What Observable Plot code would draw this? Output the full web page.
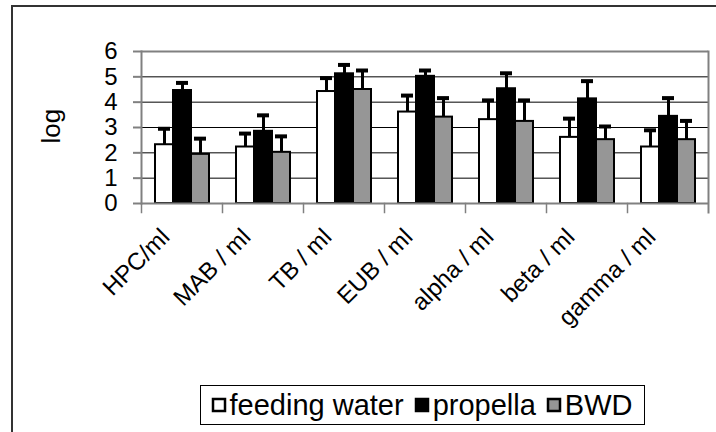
<!DOCTYPE html>
<html><head><meta charset="utf-8">
<script src="https://cdn.jsdelivr.net/npm/d3@7"></script>
<script src="https://cdn.jsdelivr.net/npm/@observablehq/plot@0.6"></script>
<style>
html,body{margin:0;padding:0;background:#fff;width:716px;height:432px;overflow:hidden;font-family:"Liberation Sans",Arial,sans-serif;}
#outer{position:absolute;left:11px;top:5px;width:760px;height:480px;border:2px solid #333;box-sizing:border-box;}
#chart{position:absolute;left:0;top:0;}
#legend{position:absolute;left:200px;top:385px;width:445px;height:40px;border:1px solid #000;box-sizing:border-box;display:flex;align-items:center;justify-content:center;background:#fff;}
#legend .lg-swatches{margin:0 !important;font-family:"Liberation Sans",Arial,sans-serif !important;font-size:29px !important;color:#000;min-height:0 !important;}
#legend .lg-swatch{margin-right:12px !important;}
#legend .lg-swatch:last-child{margin-right:0 !important;}
#legend .lg-swatch svg{margin-right:5px !important;}
#legend .lg-swatch svg rect{stroke:#000;stroke-width:2.5px;}
</style>
</head><body>
<div id="outer"></div>
<div id="chart"></div>
<div id="legend"></div>
<script>
const categories = ["HPC/ml", "MAB / ml", "TB / ml", "EUB / ml", "alpha / ml", "beta / ml", "gamma / ml"];
const series = ["feeding water", "propella", "BWD"];
const seriesColors = ["#ffffff", "#000000", "#969696"];
const feedingWater = [2.32, 2.23, 4.42, 3.61, 3.31, 2.61, 2.23];
const feedingWaterErr = [0.63, 0.53, 0.53, 0.65, 0.76, 0.74, 0.66];
const propella = [4.46, 2.85, 5.12, 5.02, 4.53, 4.13, 3.44];
const propellaErr = [0.30, 0.63, 0.35, 0.23, 0.61, 0.70, 0.72];
const bwd = [1.94, 2.02, 4.50, 3.41, 3.24, 2.52, 2.52];
const bwdErr = [0.62, 0.63, 0.75, 0.75, 0.83, 0.52, 0.74];
const yTicks = [0, 1, 2, 3, 4, 5, 6];
const gridTicks = [1, 2, 3, 4, 5];
const yLabel = "log";

const values = [feedingWater, propella, bwd];
const errs = [feedingWaterErr, propellaErr, bwdErr];
const rows = [];
categories.forEach((c, i) => {
  series.forEach((s, j) => rows.push({cat: c, series: s, value: values[j][i], err: errs[j][i]}));
});

const W = 716, H = 380, mL = 140, mR = 8, mT = 51, mB = H - 203;
const frameH = H - mT - mB;
const gray = "#808080";
const font = "Liberation Sans, Arial, sans-serif";

const plot = Plot.plot({
  width: W, height: H,
  marginLeft: mL, marginRight: mR, marginTop: mT, marginBottom: mB,
  style: {fontFamily: font, fontSize: "24px", background: "transparent", overflow: "visible", color: "#000"},
  fx: {domain: categories, padding: 0, axis: null, label: null},
  x: {domain: series, paddingInner: 0, paddingOuter: 0.69, axis: null},
  y: {domain: [0, 6], axis: null},
  color: {domain: series, range: seriesColors},
  marks: [
    Plot.ruleY(gridTicks, {stroke: "#000", strokeWidth: 1}),
    Plot.ruleY([6], {stroke: gray, strokeWidth: 2}),
    Plot.frame({anchor: "left", facetAnchor: "left", stroke: gray, strokeWidth: 2}),
    Plot.frame({anchor: "right", facetAnchor: "right", stroke: gray, strokeWidth: 2, insetBottom: -9}),
    Plot.frame({anchor: "left", stroke: gray, strokeWidth: 1.5, insetTop: frameH, insetBottom: -9}),
    Plot.axisY({ticks: yTicks, tickFormat: d3.format("d"), tickSize: 8, tickPadding: 16, stroke: gray, strokeWidth: 2,
      fill: "#000", fontSize: 24, label: null}),
    Plot.text([yLabel], {text: d => d, frameAnchor: "left", facetAnchor: "left", rotate: -90, dx: -90, dy: 16,
      fontSize: 26, fill: "#000"}),
    Plot.barY(rows, {fx: "cat", x: "series", y: "value", fill: "series", stroke: "#000", strokeWidth: 2, inset: 0}),
    Plot.ruleX(rows, {fx: "cat", x: "series", y1: "value", y2: d => d.value + d.err, stroke: "#000", strokeWidth: 3}),
    Plot.tickY(rows, {fx: "cat", x: "series", y: d => d.value + d.err, stroke: "#000", strokeWidth: 4, insetLeft: 3, insetRight: 3}),
    Plot.ruleY([0], {stroke: gray, strokeWidth: 2}),
    Plot.text(categories, {fx: d => d, text: d => d, frameAnchor: "bottom", rotate: -45, textAnchor: "end",
      dx: -11, dy: 35, fontSize: 24, fill: "#000"})
  ]
});
document.getElementById("chart").appendChild(plot);
const leg = plot.legend("color", {className: "lg", swatchSize: 12});
document.getElementById("legend").appendChild(leg);
</script>
</body></html>
